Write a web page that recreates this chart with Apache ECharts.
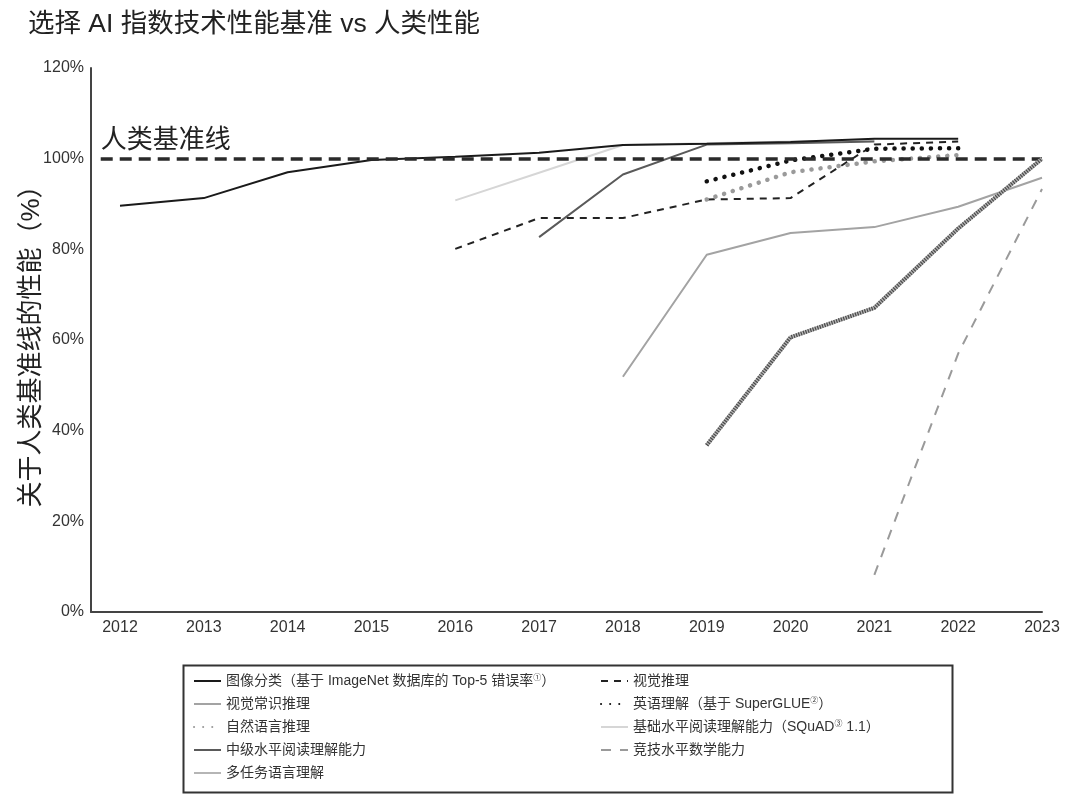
<!DOCTYPE html>
<html>
<head>
<meta charset="utf-8">
<script src="https://cdn.jsdelivr.net/npm/echarts@6/dist/echarts.min.js"></script>
<style>
  html, body { margin: 0; padding: 0; background: #fff; }
  #chart { width: 1080px; height: 799px; }
</style>
</head>
<body>
<div id="chart"></div>
<script>
// Values (percent of human baseline)
const yearTicks = [2012, 2013, 2014, 2015, 2016, 2017, 2018, 2019, 2020, 2021, 2022, 2023];

const imagenetYears = [2012, 2013, 2014, 2015, 2016, 2017, 2018, 2019, 2020, 2021, 2022];
const imagenetVals = [89.6, 91.3, 97.0, 99.7, 100.4, 101.3, 103.0, 103.3, 103.7, 104.4, 104.4];

const visualReasoningYears = [2016, 2017, 2018, 2019, 2020, 2021, 2022];
const visualReasoningVals = [80.1, 86.9, 86.9, 91.0, 91.3, 103.1, 103.8];

const commonsenseYears = [2018, 2019, 2020, 2021, 2022, 2023];
const commonsenseVals = [51.9, 78.8, 83.6, 84.9, 89.4, 95.8];

const superglueYears = [2019, 2020, 2021, 2022];
const superglueVals = [95.0, 99.6, 102.2, 102.3];

const nliYears = [2019, 2020, 2021, 2022];
const nliVals = [91.0, 97.0, 99.4, 100.8];

const squadYears = [2016, 2017, 2018, 2019, 2020, 2021];
const squadVals = [90.8, 96.9, 103.0, 103.4, 103.8, 104.1];

const readingYears = [2017, 2018, 2019, 2020, 2021];
const readingVals = [82.7, 96.5, 103.1, 103.4, 103.8];

const mathYears = [2021, 2022, 2023];
const mathVals = [8.2, 57.0, 93.3];

const multitaskYears = [2019, 2020, 2021, 2022, 2023];
const multitaskVals = [36.8, 60.6, 67.1, 84.6, 100.0];

const humanBaseline = 100;
const baselineStart = 2011.77;

const names = {
  imagenet: '图像分类（基于 ImageNet 数据库的 Top-5 错误率①）',
  commonsense: '视觉常识推理',
  nli: '自然语言推理',
  reading: '中级水平阅读理解能力',
  multitask: '多任务语言理解',
  visual: '视觉推理',
  superglue: '英语理解（基于 SuperGLUE②）',
  squad: '基础水平阅读理解能力（SQuAD③ 1.1）',
  math: '竞技水平数学能力'
};

const font = '"Liberation Sans", "Noto Sans CJK SC", sans-serif';

function pairs(xs, ys) {
  return xs.map((x, i) => [x, ys[i]]);
}

function lineSeries(name, xs, ys, lineStyle, z) {
  return {
    name,
    type: 'line',
    data: pairs(xs, ys),
    symbol: 'none',
    lineStyle,
    itemStyle: { color: lineStyle.color },
    z: z || 2
  };
}

const legendText = {
  fontSize: 14,
  color: '#333',
  fontFamily: font,
  rich: {
    sup: { fontSize: 8, verticalAlign: 'top', lineHeight: 14, color: '#333' }
  }
};

function supFormatter(name) {
  return name.replace(/([①②③])/, '{sup|$1}');
}

// legend shows only the line sample, no marker
const legendBase = {
  orient: 'vertical',
  top: 669,
  itemGap: 9, itemWidth: 27, itemHeight: 14,
  itemStyle: { opacity: 0 },
  textStyle: legendText,
  formatter: supFormatter
};

const chart = echarts.init(document.getElementById('chart'));

chart.setOption({
  animation: false,
  title: {
    text: '选择 AI 指数技术性能基准 vs 人类性能',
    left: 23,
    top: 6,
    textStyle: { fontSize: 26.5, fontWeight: 'normal', color: '#222', fontFamily: font }
  },
  grid: { left: 91, right: 38, top: 68, bottom: 187 },
  legend: [
    Object.assign({}, legendBase, {
      left: 188,
      data: [names.imagenet, names.commonsense, names.nli, names.reading, names.multitask]
    }),
    Object.assign({}, legendBase, {
      left: 595,
      data: [names.visual, names.superglue, names.squad, names.math]
    })
  ],
  graphic: [{
    type: 'rect',
    left: 181, top: 663,
    shape: { width: 769, height: 127 },
    style: { fill: 'none', stroke: '#333', lineWidth: 2 }
  }],
  xAxis: {
    type: 'value',
    min: 2011.654,
    max: 2023,
    axisLine: { lineStyle: { color: '#444', width: 2 } },
    axisTick: { show: false },
    splitLine: { show: false },
    axisLabel: {
      customValues: yearTicks,
      formatter: v => String(v),
      fontSize: 16, color: '#333', margin: 8, fontFamily: font
    }
  },
  yAxis: {
    type: 'value',
    min: 0,
    max: 120,
    interval: 20,
    name: '关于人类基准线的性能（%）',
    nameLocation: 'middle',
    nameGap: 46,
    nameMoveOverlap: false,
    nameTextStyle: { fontSize: 26, color: '#222', fontFamily: font },
    axisLine: { show: true, lineStyle: { color: '#444', width: 2 } },
    axisTick: { show: false },
    splitLine: { show: false },
    axisLabel: { formatter: '{value}%', fontSize: 16, color: '#333', margin: 7, fontFamily: font }
  },
  series: [
    lineSeries(names.squad, squadYears, squadVals, { color: '#d6d6d6', width: 2 }, 1),
    lineSeries(names.reading, readingYears, readingVals, { color: '#5a5a5a', width: 2 }, 2),
    Object.assign(
      lineSeries(names.imagenet, imagenetYears, imagenetVals, { color: '#1a1a1a', width: 2 }, 3),
      {
        markLine: {
          silent: true,
          symbol: 'none',
          lineStyle: { color: '#2a2a2a', width: 3.5, type: [12, 7] },
          label: {
            show: true,
            position: 'insideStartTop',
            formatter: '人类基准线',
            fontSize: 26, color: '#222', fontFamily: font,
            distance: [0, 5]
          },
          data: [[{ coord: [baselineStart, humanBaseline] }, { coord: [2023, humanBaseline] }]]
        }
      }
    ),
    lineSeries(names.visual, visualReasoningYears, visualReasoningVals, { color: '#222', width: 2, type: [7, 6] }, 3),
    lineSeries(names.nli, nliYears, nliVals, { color: '#9a9a9a', width: 4.5, type: [0.1, 9], cap: 'round' }, 4),
    lineSeries(names.superglue, superglueYears, superglueVals, { color: '#111', width: 4.5, type: [0.1, 9], cap: 'round' }, 4),
    lineSeries(names.commonsense, commonsenseYears, commonsenseVals, { color: '#a3a3a3', width: 2 }, 2),
    lineSeries(names.math, mathYears, mathVals, { color: '#9a9a9a', width: 2, type: [10, 9] }, 2),
    lineSeries(names.multitask, multitaskYears, multitaskVals, { color: '#b5b5b5', width: 4 }, 5),
    lineSeries('多任务语言理解-hatch', multitaskYears, multitaskVals, { color: '#4a4a4a', width: 4, type: [1.2, 1.3] }, 6)
  ]
});
</script>
</body>
</html>
